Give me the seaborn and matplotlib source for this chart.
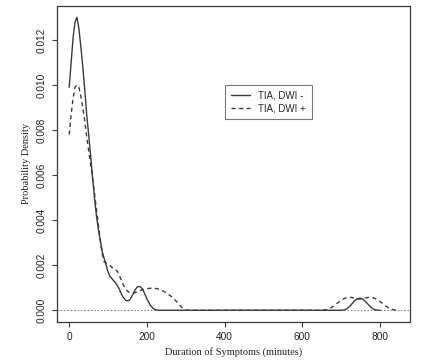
import pandas as pd
import numpy as np
import seaborn as sns
import matplotlib.pyplot as plt

# density curve, TIA DWI-
neg_x = [0, 5, 10, 15, 20, 25, 30, 35, 40, 45, 50, 55, 60, 65, 70, 75, 80, 85, 90, 95,
         100, 105, 110, 115, 120, 125, 130, 135, 140, 145, 150, 155, 160, 165, 170, 175,
         180, 185, 190, 195, 200, 205, 210, 215, 220, 225, 230, 400, 600, 700, 705, 710,
         715, 720, 725, 730, 735, 740, 745, 750, 755, 760, 765, 770, 775, 780, 785, 790,
         800]
neg_y = [0.0099, 0.0110, 0.0121, 0.0128, 0.0130, 0.0125, 0.0117, 0.0108, 0.0098, 0.0087,
         0.0078, 0.0069, 0.0059, 0.0050, 0.0042, 0.0036, 0.0031, 0.0026, 0.0023, 0.0020,
         0.0017, 0.0015, 0.0014, 0.0013, 0.0012, 0.00107, 0.0009, 0.0007, 0.00055, 0.00045,
         0.00042, 0.00045, 0.00058, 0.00075, 0.00092, 0.00103, 0.00106, 0.00102, 0.0009,
         0.0007, 0.0005, 0.00034, 0.0002, 0.0001, 0.00004, 0.00001, 0.0, 0.0, 0.0, 0.0,
         0.00001, 0.00003, 0.00008, 0.00015, 0.00024, 0.00034, 0.00043, 0.0005, 0.00053,
         0.00053, 0.0005, 0.00043, 0.00034, 0.00024, 0.00015, 0.00008, 0.00003, 0.00001,
         0.0]

# TIA DWI+
pos_x = [0, 5, 10, 15, 20, 25, 30, 35, 40, 45, 50, 55, 60, 65, 70, 75, 80, 85, 90, 95,
         100, 105, 110, 115, 120, 125, 130, 135, 140, 145, 150, 155, 160, 165, 170, 175,
         180, 190, 200, 210, 220, 230, 240, 250, 260, 270, 280, 290, 295, 300, 310, 500,
         650, 660, 670, 680, 690, 700, 710, 720, 730, 740, 748, 755, 765, 775, 785, 795,
         805, 815, 825, 835, 845]
pos_y = [0.0078, 0.0087, 0.0094, 0.0099, 0.0100, 0.0099, 0.0095, 0.0090, 0.0084, 0.0077,
         0.0071, 0.0065, 0.0059, 0.0052, 0.0045, 0.0038, 0.0031, 0.0025, 0.00215, 0.0021,
         0.00205, 0.0020, 0.0019, 0.00188, 0.0018, 0.0017, 0.0015, 0.0013, 0.0011, 0.00095,
         0.00085, 0.00078, 0.00075, 0.00076, 0.00079, 0.00083, 0.00087, 0.00092, 0.00096,
         0.00098, 0.00098, 0.00094, 0.00087, 0.00077, 0.00065, 0.0005, 0.00032, 0.00012,
         0.00005, 0.00001, 0.0, 0.0, 0.0, 0.00002, 0.00008, 0.00018, 0.00032, 0.00045,
         0.00054, 0.00058, 0.00056, 0.00051, 0.0005, 0.00051, 0.00056, 0.00058, 0.00054,
         0.00045, 0.00032, 0.00018, 0.00008, 0.00002, 0.0]

labels = ["TIA, DWI -", "TIA, DWI +"]
x_ticks = [0, 200, 400, 600, 800]
y_ticks = [0.000, 0.002, 0.004, 0.006, 0.008, 0.010, 0.012]

df = pd.concat([
    pd.DataFrame({"minutes": neg_x, "density": neg_y, "group": labels[0]}),
    pd.DataFrame({"minutes": pos_x, "density": pos_y, "group": labels[1]}),
])

sns.set_theme(style="white")
plt.rcParams['font.family'] = ['Liberation Sans', 'DejaVu Sans']

fig = plt.figure(figsize=(4.4, 3.64), dpi=100)
ax = fig.add_axes([0.129, 0.1154, 0.803, 0.8689])

ink = "#3a3a3a"
ax.axhline(0, color="#888888", lw=0.8, ls=(0, (1.5, 1.5)), zorder=1)
sns.lineplot(data=df, x="minutes", y="density", style="group",
             dashes={labels[0]: "", labels[1]: (3, 2.5)}, color=ink,
             linewidth=1.0, sort=False, estimator=None, ax=ax, zorder=2)

ax.set_xlim(-32, 877)
ax.set_ylim(-0.00052, 0.01352)
ax.set_xticks(x_ticks)
ax.set_xticklabels([str(t) for t in x_ticks])
ax.set_yticks(y_ticks)
ax.set_yticklabels(["%.3f" % t for t in y_ticks], rotation=90, va="center")
ax.tick_params(axis="both", direction="out", length=3.5, width=0.8, color=ink,
               labelsize=7.3, labelcolor="#222222", pad=4, left=True, bottom=True)

for s in ax.spines.values():
    s.set_color(ink)
    s.set_linewidth(0.9)

ax.set_xlabel("Duration of Symptoms (minutes)", family="Liberation Serif",
              fontsize=7.5, color="#222222", labelpad=3)
ax.set_ylabel("Probability Density", family="Liberation Serif",
              fontsize=7.5, color="#222222", labelpad=4)

handles = [plt.Line2D([], [], color=ink, lw=1.0),
           plt.Line2D([], [], color=ink, lw=1.0, ls=(0, (3, 2.5)))]
leg = ax.legend(handles, labels, loc="upper left", bbox_to_anchor=(0.476, 0.75),
                fontsize=7, frameon=True, fancybox=False, handlelength=2.0,
                handletextpad=0.8, borderpad=0.6, labelspacing=0.25,
                edgecolor="#555555", borderaxespad=0)
leg.get_frame().set_linewidth(0.8)

plt.savefig("out.png", dpi=100)
